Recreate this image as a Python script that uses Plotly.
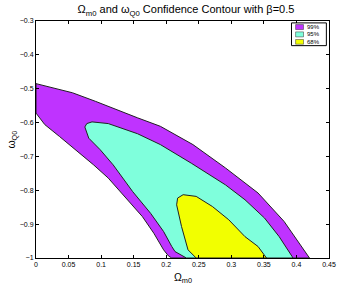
import plotly.graph_objects as go

# 99% confidence region (outer, purple)
c99_x = [0.0, 0.056, 0.091, 0.121, 0.156, 0.191, 0.241, 0.291, 0.341, 0.381, 0.403, 0.42,
         0.2085, 0.2035, 0.196, 0.181, 0.1635, 0.138, 0.111, 0.0885, 0.061, 0.036, 0.0135, 0.0]
c99_y = [-0.485, -0.512, -0.537, -0.560, -0.586, -0.611, -0.665, -0.734, -0.808, -0.892, -0.952, -1.0,
         -1.0, -0.994, -0.976, -0.927, -0.878, -0.823, -0.764, -0.725, -0.680, -0.641, -0.606, -0.572]

# 95% confidence region (cyan)
c95_x = [0.231, 0.2135, 0.2085, 0.196, 0.176, 0.1485, 0.1185, 0.0985, 0.081, 0.075, 0.078, 0.086,
         0.111, 0.156, 0.191, 0.2385, 0.291, 0.321, 0.351, 0.3735, 0.3935, 0.3945]
c95_y = [-1.0, -0.981, -0.966, -0.922, -0.868, -0.804, -0.725, -0.680, -0.646, -0.613, -0.603, -0.598,
         -0.603, -0.633, -0.665, -0.720, -0.784, -0.828, -0.882, -0.937, -0.996, -1.0]

# 68% confidence region (yellow)
c68_x = [0.246, 0.2335, 0.2235, 0.216, 0.2175, 0.226, 0.246, 0.271, 0.296, 0.321, 0.341, 0.354]
c68_y = [-1.0, -0.976, -0.907, -0.843, -0.823, -0.813, -0.818, -0.848, -0.887, -0.937, -0.966, -1.0]

levels = ["99%", "95%", "68%"]
colors = ["#BF33FF", "#7FFFDC", "#F2FF00"]

x_ticks = [0, 0.05, 0.1, 0.15, 0.2, 0.25, 0.3, 0.35, 0.4, 0.45]
x_tick_labels = ["0", "0.05", "0.1", "0.15", "0.2", "0.25", "0.3", "0.35", "0.4", "0.45"]
y_ticks = [-1, -0.9, -0.8, -0.7, -0.6, -0.5, -0.4, -0.3]
y_tick_labels = ["\u22121", "\u22120.9", "\u22120.8", "\u22120.7", "\u22120.6", "\u22120.5", "\u22120.4", "\u22120.3"]

FONT = "Liberation Sans, Arial, Helvetica, sans-serif"

fig = go.Figure()
for xs, ys, col, name in [(c99_x, c99_y, colors[0], levels[0]),
                          (c95_x, c95_y, colors[1], levels[1]),
                          (c68_x, c68_y, colors[2], levels[2])]:
    fig.add_trace(go.Scatter(x=xs + [xs[0]], y=ys + [ys[0]], mode="lines", fill="toself",
                             fillcolor=col, line=dict(color="#222222", width=1),
                             name=name, showlegend=False, hoverinfo="skip"))

axis_common = dict(showline=True, linecolor="black", linewidth=1, mirror="allticks",
                   ticks="inside", ticklen=3, tickcolor="black", showgrid=False, zeroline=False,
                   tickfont=dict(size=7, family=FONT, color="black"))

fig.update_xaxes(range=[0, 0.45], tickvals=x_ticks, ticktext=x_tick_labels, **axis_common)
fig.update_yaxes(range=[-1, -0.3], tickvals=y_ticks, ticktext=y_tick_labels, **axis_common)

# Manual legend (paper coordinates)
fig.add_shape(type="rect", xref="paper", yref="paper", x0=0.872, x1=0.991, y0=0.896, y1=0.992,
              fillcolor="white", line=dict(color="black", width=1))
rows = [(0.964, 0.985), (0.933, 0.954), (0.902, 0.922)]
for (y0, y1), col, lab in zip(rows, colors, levels):
    fig.add_shape(type="rect", xref="paper", yref="paper", x0=0.886, x1=0.913, y0=y0, y1=y1,
                  fillcolor=col, line=dict(color="#333333", width=0.5))
    fig.add_annotation(xref="paper", yref="paper", x=0.918, y=(y0 + y1) / 2, text=lab,
                       showarrow=False, xanchor="left", yanchor="middle",
                       font=dict(size=6, family=FONT, color="black"))

# Axis titles
fig.add_annotation(xref="paper", yref="paper", x=0.5, y=-0.045, yanchor="top",
                   text="\u03a9<sub>m0</sub>", showarrow=False,
                   font=dict(size=10.5, family=FONT, color="black"))
fig.add_annotation(xref="paper", yref="paper", x=-0.085, y=0.5, xanchor="center",
                   text="\u03c9<sub>Q0</sub>", textangle=-90, showarrow=False,
                   font=dict(size=10.5, family=FONT, color="black"))

fig.update_layout(
    width=346, height=287,
    margin=dict(l=36, r=10, t=21, b=29),
    paper_bgcolor="white", plot_bgcolor="white",
    title=dict(text="\u03a9<sub>m0</sub> and \u03c9<sub>Q0</sub> Confidence Contour with \u03b2=0.5",
               x=0.5375, xanchor="center", y=0.98, yanchor="top",
               font=dict(size=11, family=FONT, color="black")),
    showlegend=False,
)

fig.write_html("out.html", config={"displayModeBar": False},
               post_script="document.body.style.margin='0';document.body.style.overflow='hidden';")
